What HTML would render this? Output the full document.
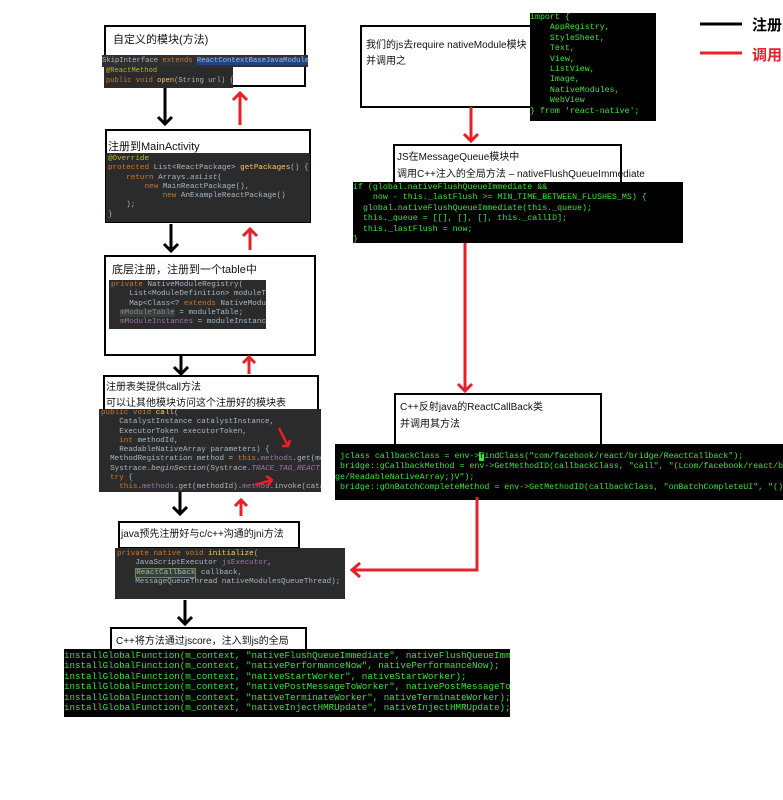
<!DOCTYPE html>
<html><head><meta charset="utf-8"><style>
body{margin:0;width:783px;height:800px;background:#fff;position:relative;overflow:hidden;font-family:"Liberation Sans","Noto Sans CJK SC",sans-serif;}
.b{position:absolute;border:2px solid #000;background:#fff;box-sizing:border-box;}
.t{position:absolute;font-size:10px;color:#111;white-space:nowrap;}
.c{position:absolute;font-family:"Liberation Mono",monospace;white-space:pre;overflow:hidden;box-sizing:border-box;}
.d{background:#2b2b2b;color:#a9b7c6;}
.g{background:#000;color:#3ce23c;}
.k{color:#cc7832}.y{color:#ffc66d}.p{color:#9876aa}.a{color:#bbb529}
svg{position:absolute;left:0;top:0}
</style></head><body>
<!-- left column -->
<div class="b" style="left:104px;top:25px;width:202px;height:62px"></div>
<div class="t" style="left:113px;top:31px;font-size:11px">自定义的模块(方法)</div>
<div class="c d" style="left:102px;top:55px;width:206px;height:12px;font-size:7.2px;line-height:12px;background:#303030">SkipInterface <span class="k">extends</span> <span style="background:#214283">ReactContextBaseJavaModule</span></div>
<div class="c d" style="left:104px;top:67px;width:129px;height:21px;font-size:7.1px;line-height:9.5px;padding-left:2px"><span class="a">@ReactMethod</span>
<span class="k">public void</span> <span class="y">open</span>(String url) {</div>

<div class="b" style="left:105px;top:129px;width:206px;height:94px"></div>
<div class="t" style="left:108px;top:138px;font-size:11px">注册到MainActivity</div>
<div class="c d" style="left:106px;top:153px;width:204px;height:69px;font-size:7.6px;line-height:9.3px;padding:2px"><span class="a">@Override</span>
<span class="k">protected</span> List&lt;ReactPackage&gt; <span class="y">getPackages</span>() {
    <span class="k">return</span> Arrays.<i>asList</i>(
        <span class="k">new</span> MainReactPackage(),
            <span class="k">new</span> AnExampleReactPackage()
    );
}</div>

<div class="b" style="left:104px;top:255px;width:212px;height:101px"></div>
<div class="t" style="left:112px;top:261px;font-size:11px">底层注册，注册到一个table中</div>
<div class="c d" style="left:109px;top:280px;width:157px;height:49px;font-size:7.6px;line-height:9.3px;padding:1px 2px"><span class="k">private</span> NativeModuleRegistry(
    List&lt;ModuleDefinition&gt; moduleTable,
    Map&lt;Class&lt;? <span class="k">extends</span> NativeModule&gt;
  <span class="p" style="background:#344134">mModuleTable</span> = moduleTable;
  <span class="p">mModuleInstances</span> = moduleInstances;</div>

<div class="b" style="left:103px;top:375px;width:216px;height:40px"></div>
<div class="t" style="left:106px;top:378px;font-size:10px">注册表类提供call方法</div>
<div class="t" style="left:106px;top:394px;font-size:10px">可以让其他模块访问这个注册好的模块表</div>
<div class="c d" style="left:99px;top:409px;width:222px;height:83px;font-size:7.6px;line-height:9.3px;padding:0 2px"><span class="k">public void</span> <span class="y">call</span>(
    CatalystInstance catalystInstance,
    ExecutorToken executorToken,
    <span class="k">int</span> methodId,
    ReadableNativeArray parameters) {
  MethodRegistration method = <span class="k">this</span>.<span class="p">methods</span>.get(methodId);
  Systrace.<i>beginSection</i>(Systrace.<i class="p">TRACE_TAG_REACT_JAVA</i>
  <span class="k">try</span> {
    <span class="k">this</span>.<span class="p">methods</span>.get(methodId).<span class="p">method</span>.invoke(catalyst</div>

<div class="b" style="left:118px;top:521px;width:182px;height:28px"></div>
<div class="t" style="left:121px;top:525px;font-size:10px">java预先注册好与c/c++沟通的jni方法</div>
<div class="c d" style="left:115px;top:548px;width:230px;height:51px;font-size:7.6px;line-height:9.3px;padding:2px 2px"><span class="k">private native void</span> <span class="y">initialize</span>(
    JavaScriptExecutor <span class="p">jsExecutor</span>,
    <span style="border:1px solid #6a8759;background:#344134">ReactCallback</span> callback,
    MessageQueueThread nativeModulesQueueThread);</div>

<div class="b" style="left:110px;top:627px;width:197px;height:25px"></div>
<div class="t" style="left:116px;top:632px;font-size:10px">C++将方法通过jscore，注入到js的全局</div>
<div class="c g" style="left:64px;top:649px;width:446px;height:68px;font-size:9.2px;line-height:10.4px;padding-top:2px">installGlobalFunction(m_context, "nativeFlushQueueImmediate", nativeFlushQueueImmediate);
installGlobalFunction(m_context, "nativePerformanceNow", nativePerformanceNow);
installGlobalFunction(m_context, "nativeStartWorker", nativeStartWorker);
installGlobalFunction(m_context, "nativePostMessageToWorker", nativePostMessageToWorker);
installGlobalFunction(m_context, "nativeTerminateWorker", nativeTerminateWorker);
installGlobalFunction(m_context, "nativeInjectHMRUpdate", nativeInjectHMRUpdate);</div>

<!-- right column -->
<div class="b" style="left:360px;top:25px;width:172px;height:83px"></div>
<div class="t" style="left:366px;top:36px;font-size:10px">我们的js去require nativeModule模块</div>
<div class="t" style="left:366px;top:52px;font-size:10px">并调用之</div>
<div class="c g" style="left:530px;top:13px;width:126px;height:108px;font-size:8.3px;line-height:10.4px">import {
    AppRegistry,
    StyleSheet,
    Text,
    View,
    ListView,
    Image,
    NativeModules,
    WebView
} from 'react-native';</div>

<div class="b" style="left:393px;top:144px;width:229px;height:40px"></div>
<div class="t" style="left:397px;top:148px;font-size:10px">JS在MessageQueue模块中</div>
<div class="t" style="left:397px;top:165px;font-size:10px">调用C++注入的全局方法 – nativeFlushQueueImmediate</div>
<div class="c g" style="left:353px;top:182px;width:330px;height:61px;font-size:8.3px;line-height:10.4px;padding-top:1px">if (global.nativeFlushQueueImmediate &amp;&amp;
    now - this._lastFlush &gt;= MIN_TIME_BETWEEN_FLUSHES_MS) {
  global.nativeFlushQueueImmediate(this._queue);
  this._queue = [[], [], [], this._callID];
  this._lastFlush = now;
}</div>

<div class="b" style="left:394px;top:393px;width:208px;height:54px"></div>
<div class="t" style="left:400px;top:398px;font-size:10px">C++反射java的ReactCallBack类</div>
<div class="t" style="left:400px;top:415px;font-size:10px">并调用其方法</div>
<div class="c g" style="left:335px;top:444px;width:448px;height:56px;font-size:8.3px;line-height:10.4px;padding-top:8px"> jclass callbackClass = env-&gt;<span style="background:#3ce23c;color:#000">f</span>indClass("com/facebook/react/bridge/ReactCallback");
 bridge::gCallbackMethod = env-&gt;GetMethodID(callbackClass, "call", "(Lcom/facebook/react/brid
ge/ReadableNativeArray;)V");
 bridge::gOnBatchCompleteMethod = env-&gt;GetMethodID(callbackClass, "onBatchCompleteUI", "()V");</div>

<div class="t" style="left:752px;top:14px;font-size:15px;font-weight:bold;color:#000">注册</div>
<div class="t" style="left:752px;top:44px;font-size:15px;font-weight:bold;color:#e8202a">调用</div>

<svg width="783" height="800" fill="none" stroke-width="3">
<g stroke="#000">
<line x1="700" y1="24" x2="742" y2="24"/>
<path d="M165 88V124M158 117L165 124L172 117"/>
<path d="M171 224V251M164 244L171 251L178 244"/>
<path d="M181 356V374M174 367L181 374L188 367"/>
<path d="M180 492V514M173 507L180 514L187 507"/>
<path d="M185 600V624M178 617L185 624L192 617"/>
</g>
<g stroke="#e8202a">
<line x1="700" y1="53" x2="742" y2="53"/>
<path d="M240 125V93M233 100L240 93L247 100"/>
<path d="M250 250V229M243 236L250 229L257 236"/>
<path d="M249 374V357M243 363L249 357L255 363"/>
<path d="M241 516V500M235 506L241 500L247 506"/>
<path d="M471 107V141M464 134L471 141L478 134"/>
<path d="M465 243V391M458 384L465 391L472 384"/>
<path d="M477 497V570H352M360 563L352 570L360 577"/>
<path d="M279 428L288 446M282 446L288 446L290 440" stroke-width="2.5"/>
<path d="M255 485L272 480M266 476L272 480L268 486" stroke-width="2.5"/>
</g>
</svg>
</body></html>
